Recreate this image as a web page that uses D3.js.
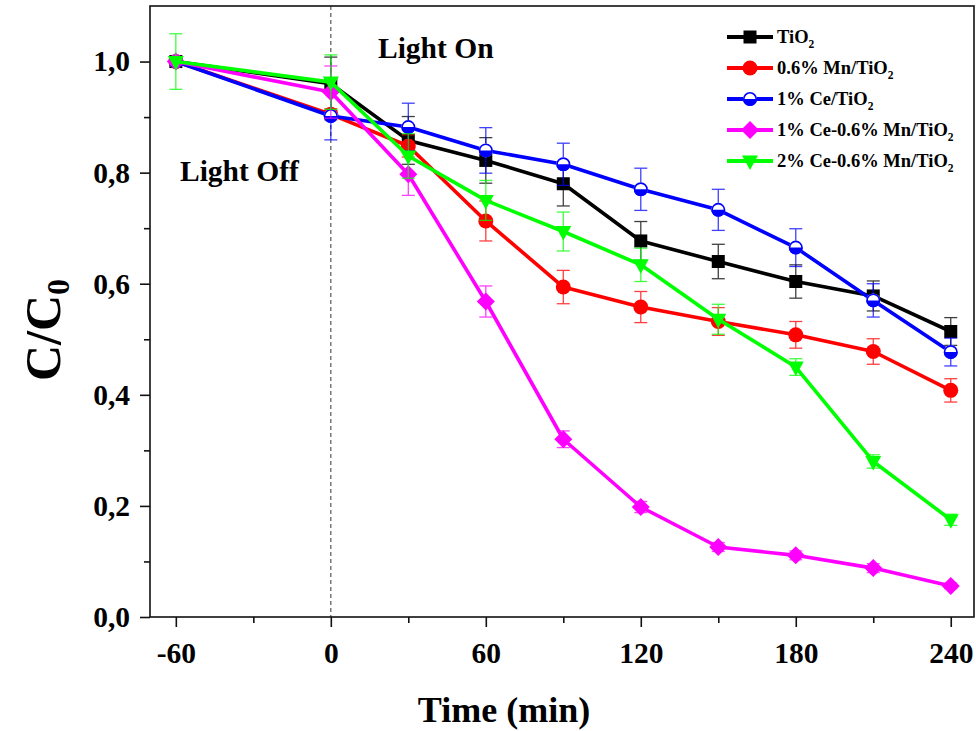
<!DOCTYPE html>
<html>
<head>
<meta charset="utf-8">
<script src="https://cdn.jsdelivr.net/npm/d3@7"></script>
<style>
  html, body { margin: 0; padding: 0; background: #fff; }
  svg { display: block; }
  text { font-family: "Liberation Serif", "Times New Roman", serif; font-weight: bold; fill: #000; }
</style>
</head>
<body>
<svg id="chart" width="976" height="731"></svg>
<script>
// ---------- data ----------
const times = [-60, 0, 30, 60, 90, 120, 150, 180, 210, 240];

const tio2    = [1.000, 0.960, 0.858, 0.822, 0.780, 0.677, 0.640, 0.604, 0.578, 0.514];
const mnTio2  = [1.000, 0.905, 0.848, 0.713, 0.594, 0.558, 0.532, 0.508, 0.478, 0.408];
const ceTio2  = [1.000, 0.902, 0.882, 0.840, 0.815, 0.770, 0.733, 0.665, 0.570, 0.477];
const ce1Mn   = [1.000, 0.945, 0.797, 0.568, 0.320, 0.198, 0.126, 0.111, 0.088, 0.056];
const ce2Mn   = [1.000, 0.963, 0.830, 0.750, 0.694, 0.634, 0.536, 0.450, 0.280, 0.175];

const tio2Err   = [0.005, 0.048, 0.043, 0.041, 0.040, 0.035, 0.031, 0.030, 0.027, 0.025];
const mnTio2Err = [0.005, 0.010, 0.020, 0.036, 0.030, 0.028, 0.025, 0.024, 0.023, 0.021];
const ceTio2Err = [0.005, 0.043, 0.043, 0.041, 0.038, 0.038, 0.037, 0.034, 0.030, 0.025];
const ce1MnErr  = [0.005, 0.047, 0.038, 0.028, 0.015, 0.010, 0.008, 0.008, 0.008, 0.005];
const ce2MnErr  = [0.050, 0.049, 0.040, 0.036, 0.035, 0.030, 0.027, 0.015, 0.012, 0.010];

const legendMain = ["TiO", "0.6% Mn/TiO", "1% Ce/TiO", "1% Ce-0.6% Mn/TiO", "2% Ce-0.6% Mn/TiO"];
const legendSub  = ["2", "2", "2", "2", "2"];

const xMajorTicks = [-60, 0, 60, 120, 180, 240];
const xMinorTicks = [-30, 30, 90, 150, 210];
const yMajorTicks = [0, 0.2, 0.4, 0.6, 0.8, 1.0];
const yMinorTicks = [0.1, 0.3, 0.5, 0.7, 0.9];

const xLabel = "Time (min)";
const annotations = ["Light On", "Light Off"];

const seriesDefs = [
  { values: tio2,   err: tio2Err,   color: "#000000", marker: "square" },
  { values: mnTio2, err: mnTio2Err, color: "#ff0000", marker: "circle" },
  { values: ceTio2, err: ceTio2Err, color: "#0000ff", marker: "halfcircle" },
  { values: ce1Mn,  err: ce1MnErr,  color: "#ff00ff", marker: "diamond" },
  { values: ce2Mn,  err: ce2MnErr,  color: "#00ff00", marker: "triangle" }
];

// ---------- layout ----------
const svg = d3.select("#chart");
const pL = 150, pR = 974, pT = 6, pB = 617;

const x = d3.scaleLinear().domain([-70, 249]).range([pL, pR]);
const y = d3.scaleLinear().domain([0, 1.1]).range([pB, pT]);

// dashed line at t = 0
svg.append("line")
  .attr("x1", x(0)).attr("x2", x(0))
  .attr("y1", pT).attr("y2", pB)
  .attr("stroke", "#555").attr("stroke-width", 1.2)
  .attr("stroke-dasharray", "4,3");

// axes
const fmtY = d => d3.format(".1f")(d).replace(".", ",");
const fmtX = d => String(d);

const xAxis = svg.append("g").attr("transform", `translate(0,${pB})`)
  .call(d3.axisBottom(x).tickValues(xMajorTicks).tickSize(10).tickPadding(15).tickFormat(fmtX));
const xMinor = svg.append("g").attr("transform", `translate(0,${pB})`)
  .call(d3.axisBottom(x).tickValues(xMinorTicks).tickSize(6).tickFormat(""));
const yAxis = svg.append("g").attr("transform", `translate(${pL},0)`)
  .call(d3.axisLeft(y).tickValues(yMajorTicks).tickSize(10).tickPadding(10).tickFormat(fmtY));
const yMinor = svg.append("g").attr("transform", `translate(${pL},0)`)
  .call(d3.axisLeft(y).tickValues(yMinorTicks).tickSize(6).tickFormat(""));

[xAxis, xMinor, yAxis, yMinor].forEach(g => {
  g.select(".domain").remove();
  g.selectAll(".tick line").attr("stroke", "#111").attr("stroke-width", 1.6);
  g.selectAll(".tick text").attr("font-size", 29.5).attr("font-family", "Liberation Serif, serif")
    .attr("font-weight", "bold").attr("fill", "#000");
});

// frame
svg.append("rect")
  .attr("x", pL).attr("y", pT)
  .attr("width", pR - pL).attr("height", pB - pT)
  .attr("fill", "none").attr("stroke", "#111").attr("stroke-width", 1.6);

// markers
function drawMarker(g, kind, color, cx, cy, scale) {
  const s = scale || 1;
  if (kind === "square") {
    const h = 6.5 * s;
    g.append("rect").attr("x", cx - h).attr("y", cy - h).attr("width", 2 * h).attr("height", 2 * h)
      .attr("fill", color);
  } else if (kind === "circle") {
    g.append("circle").attr("cx", cx).attr("cy", cy).attr("r", 7.5 * s).attr("fill", color);
  } else if (kind === "halfcircle") {
    const r = 7 * s;
    g.append("circle").attr("cx", cx).attr("cy", cy).attr("r", r).attr("fill", "#fff");
    g.append("path")
      .attr("d", `M${cx - r},${cy} A${r},${r} 0 0 0 ${cx + r},${cy} Z`)
      .attr("fill", color);
    g.append("circle").attr("cx", cx).attr("cy", cy).attr("r", r - 0.8)
      .attr("fill", "none").attr("stroke", color).attr("stroke-width", 1.6);
  } else if (kind === "diamond") {
    const h = 9 * s;
    g.append("path").attr("d", `M${cx},${cy - h} L${cx + h},${cy} L${cx},${cy + h} L${cx - h},${cy} Z`)
      .attr("fill", color);
  } else if (kind === "triangle") {
    const w = 8 * s, hu = 5.5 * s, hd = 9 * s;
    g.append("path").attr("d", `M${cx - w},${cy - hu} L${cx + w},${cy - hu} L${cx},${cy + hd} Z`)
      .attr("fill", color);
  }
}

const line = d3.line().x(d => x(d.t)).y(d => y(d.v));

seriesDefs.forEach(s => {
  const pts = times.map((t, i) => ({ t, v: s.values[i], e: s.err[i] }));
  const g = svg.append("g");
  g.append("path").datum(pts).attr("d", line)
    .attr("fill", "none").attr("stroke", s.color).attr("stroke-width", 3.6)
    .attr("stroke-linejoin", "round");
  const eg = g.append("g").attr("stroke", s.color).attr("stroke-width", 1.3).attr("opacity", 0.75);
  pts.forEach(p => {
    const y1 = y(p.v + p.e), y2 = y(p.v - p.e), cx = x(p.t);
    eg.append("line").attr("x1", cx).attr("x2", cx).attr("y1", y1).attr("y2", y2);
    eg.append("line").attr("x1", cx - 6.5).attr("x2", cx + 6.5).attr("y1", y1).attr("y2", y1);
    eg.append("line").attr("x1", cx - 6.5).attr("x2", cx + 6.5).attr("y1", y2).attr("y2", y2);
  });
  pts.forEach(p => drawMarker(g, s.marker, s.color, x(p.t), y(p.v), 1));
});

// annotations
svg.append("text").attr("x", 378).attr("y", 58).attr("font-size", 29.5).text(annotations[0]);
svg.append("text").attr("x", 180).attr("y", 181).attr("font-size", 29.5).text(annotations[1]);

// axis titles
svg.append("text").attr("x", 504).attr("y", 722).attr("text-anchor", "middle")
  .attr("font-size", 36).text(xLabel);

const yt = svg.append("text").attr("transform", "translate(60,330) rotate(-90)")
  .attr("text-anchor", "middle").attr("font-size", 50);
yt.append("tspan").text("C/C");
yt.append("tspan").attr("font-size", 32).attr("dy", 9).text("0");

// legend
const lg = svg.append("g");
const rowY = [37, 68, 99, 130, 161];
seriesDefs.forEach((s, i) => {
  const yy = rowY[i];
  lg.append("line").attr("x1", 727).attr("x2", 773).attr("y1", yy).attr("y2", yy)
    .attr("stroke", s.color).attr("stroke-width", 4);
  drawMarker(lg, s.marker, s.color, 750, yy, 1);
  const t = lg.append("text").attr("x", 777).attr("y", yy + 6).attr("font-size", 18.5);
  t.append("tspan").text(legendMain[i]);
  t.append("tspan").attr("font-size", 11.5).attr("dy", 5).text(legendSub[i]);
});
</script>
</body>
</html>
